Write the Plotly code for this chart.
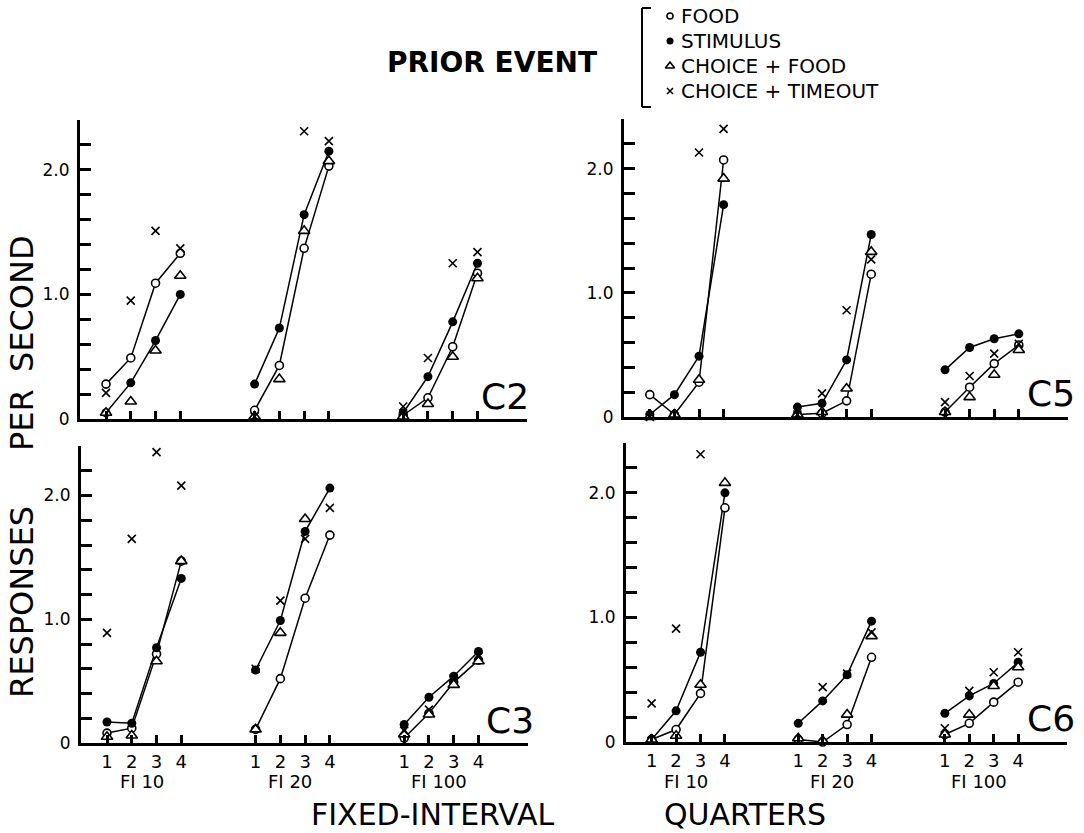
import plotly.graph_objects as go

W, H = 1084, 833

# ---------------- data ----------------
quarters = [1, 2, 3, 4]
schedules = ["FI 10", "FI 20", "FI 100"]
events = ["FOOD", "STIMULUS", "CHOICE + FOOD", "CHOICE + TIMEOUT"]
y_ticks = [round(i * 0.2, 1) for i in range(13)]
y_labels = {0.0: "0", 1.0: "1.0", 2.0: "2.0"}

# responses per second, 12 values = FI10 q1-4, FI20 q1-4, FI100 q1-4
c2_food = [0.28, 0.49, 1.09, 1.33, 0.07, 0.43, 1.37, 2.03, 0.03, 0.17, 0.58, 1.17]
c2_stim = [0.05, 0.29, 0.63, 1.00, 0.28, 0.73, 1.64, 2.15, 0.05, 0.34, 0.78, 1.25]
c2_cfood = [0.05, 0.14, 0.55, 1.15, 0.02, 0.32, 1.51, 2.07, 0.02, 0.12, 0.50, 1.13]
c2_ctime = [0.21, 0.95, 1.51, 1.37, 0.02, None, 2.31, 2.23, 0.10, 0.49, 1.25, 1.34]

c5_food = [0.18, 0.02, 0.28, 2.07, 0.02, 0.03, 0.13, 1.15, 0.04, 0.24, 0.43, 0.58]
c5_stim = [0.02, 0.18, 0.49, 1.71, 0.08, 0.11, 0.46, 1.47, 0.38, 0.56, 0.63, 0.67]
c5_cfood = [0.00, 0.02, 0.30, 1.92, 0.02, 0.04, 0.23, 1.33, 0.04, 0.16, 0.34, 0.54]
c5_ctime = [0.00, None, 2.13, 2.32, 0.02, 0.19, 0.86, 1.27, 0.12, 0.33, 0.51, 0.59]

c3_food = [0.08, 0.12, 0.72, 1.47, 0.11, 0.52, 1.17, 1.68, 0.04, 0.24, 0.49, 0.67]
c3_stim = [0.17, 0.16, 0.77, 1.33, 0.59, 0.99, 1.71, 2.06, 0.15, 0.37, 0.54, 0.74]
c3_cfood = [0.05, 0.06, 0.66, 1.47, 0.11, 0.89, 1.81, 2.42, 0.07, 0.23, 0.47, 0.66]
c3_ctime = [0.89, 1.65, 2.35, 2.08, 0.60, 1.15, 1.65, 1.90, 0.10, 0.27, 0.52, 0.70]

c6_food = [0.02, 0.10, 0.39, 1.88, 0.02, 0.00, 0.14, 0.68, 0.06, 0.15, 0.32, 0.48]
c6_stim = [0.02, 0.25, 0.72, 2.00, 0.15, 0.33, 0.54, 0.97, 0.23, 0.37, 0.47, 0.64]
c6_cfood = [0.02, 0.05, 0.46, 2.08, 0.03, 0.01, 0.22, 0.85, 0.06, 0.22, 0.45, 0.60]
c6_ctime = [0.31, 0.91, 2.31, 2.41, None, 0.44, 0.55, 0.88, 0.11, 0.41, 0.56, 0.72]

panels = [
    ("C2", c2_food, c2_stim, c2_cfood, c2_ctime),
    ("C5", c5_food, c5_stim, c5_cfood, c5_ctime),
    ("C3", c3_food, c3_stim, c3_cfood, c3_ctime),
    ("C6", c6_food, c6_stim, c6_cfood, c6_ctime),
]

# ---------------- layout helpers ----------------
GROUP_GAP = 6
xpos = [g * GROUP_GAP + q for g in range(len(schedules)) for q in quarters]

# panel boxes in pixels: (left, right, top, bottom)
boxes = [(80, 527, 120, 419), (624, 1068, 119, 417),
         (81, 528, 446, 743), (626, 1067, 443, 742)]
label_pos = [(505, 396), (1051, 393), (510, 720), (1051, 718)]

FONT = "DejaVu Sans"
THIN = "DejaVu Sans ExtraLight, DejaVu Sans"

marker_styles = {
    "FOOD": dict(symbol="circle", size=8, color="white", line=dict(color="black", width=1.6)),
    "STIMULUS": dict(symbol="circle", size=9, color="black", line=dict(color="black", width=0)),
    "CHOICE + FOOD": dict(symbol="triangle-up", size=10, color="white", line=dict(color="black", width=1.6)),
    "CHOICE + TIMEOUT": dict(symbol="x-thin-open", size=8, color="black", line=dict(color="black", width=1.6)),
}

fig = go.Figure()


def gapped(values):
    xs, ys = [], []
    for g in range(len(schedules)):
        for q in range(len(quarters)):
            i = g * len(quarters) + q
            xs.append(xpos[i])
            ys.append(values[i])
        xs.append(None)
        ys.append(None)
    return xs, ys


layout_axes = {}
annotations = []
for k, (name, food, stim, cfood, ctime) in enumerate(panels):
    ax = "" if k == 0 else str(k + 1)
    xr, yr = "x" + ax, "y" + ax
    # connecting lines (food and stimulus)
    for vals in (food, stim):
        lx, ly = gapped(vals)
        fig.add_trace(go.Scatter(x=lx, y=ly, mode="lines", xaxis=xr, yaxis=yr,
                                 line=dict(color="black", width=1.5),
                                 showlegend=False, hoverinfo="skip", cliponaxis=False))
    for ev, vals in zip(events, (food, stim, cfood, ctime)):
        fig.add_trace(go.Scatter(x=xpos, y=vals, mode="markers", xaxis=xr, yaxis=yr,
                                 marker=marker_styles[ev], name=ev,
                                 showlegend=False, cliponaxis=False))
    l, r, t, b = boxes[k]
    bottom_row = k >= 2
    layout_axes["xaxis" + ax] = dict(
        domain=[l / W, r / W], anchor=yr, range=[-0.05, 18], automargin=False,
        showline=True, linewidth=3, linecolor="black", mirror=False,
        showgrid=False, zeroline=False, ticks="inside", ticklen=8, tickwidth=2.5,
        tickcolor="black", tickvals=xpos,
        ticktext=[str(q) for _ in schedules for q in quarters],
        showticklabels=bottom_row, ticklabelstandoff=0,
        tickfont=dict(family=FONT, size=18, color="black"))
    layout_axes["yaxis" + ax] = dict(
        domain=[1 - b / H, 1 - t / H], anchor=xr, range=[0, 2.4], automargin=False,
        showline=True, linewidth=3, linecolor="black", mirror=False,
        showgrid=False, zeroline=False, ticks="inside", ticklen=11, tickwidth=2.5,
        tickcolor="black", tickvals=y_ticks,
        ticktext=[y_labels.get(v, "") for v in y_ticks], ticklabelstandoff=4,
        tickfont=dict(family=THIN, size=17, color="black"))
    lx, ly = label_pos[k]
    annotations.append(dict(x=lx, y=ly, xref="x5", yref="y5", text=name, showarrow=False,
                            font=dict(family=THIN, size=36, color="black")))
    if bottom_row:
        for g, s in enumerate(schedules):
            annotations.append(dict(x=g * GROUP_GAP + 2.4, y=781, xref=xr, yref="y5", text=s,
                                    showarrow=False,
                                    font=dict(family=FONT, size=18, color="black")))

# overlay pixel axis for titles and the legend key
layout_axes["xaxis5"] = dict(domain=[0, 1], range=[0, W], visible=False, anchor="y5",
                             fixedrange=True, automargin=False)
layout_axes["yaxis5"] = dict(domain=[0, 1], range=[H, 0], visible=False, anchor="x5",
                             fixedrange=True, automargin=False)

legend_x, legend_y0, legend_dy = 670, 16, 25
for i, ev in enumerate(events):
    st = dict(marker_styles[ev])
    st["size"] = st["size"] - 2
    fig.add_trace(go.Scatter(x=[legend_x], y=[legend_y0 + i * legend_dy], mode="markers",
                             xaxis="x5", yaxis="y5", marker=st, showlegend=False,
                             hoverinfo="skip", cliponaxis=False))
    annotations.append(dict(x=legend_x + 9, y=legend_y0 + i * legend_dy, xref="x5", yref="y5",
                            text=ev, showarrow=False, xanchor="left",
                            font=dict(family=FONT, size=20, color="black")))

annotations += [
    dict(x=492, y=62, xref="x5", yref="y5", text="<b>PRIOR EVENT</b>", showarrow=False,
         font=dict(family=FONT, size=28, color="black")),
    dict(x=22, y=304, xref="x5", yref="y5", text="SECOND", textangle=-90, showarrow=False,
         font=dict(family=FONT, size=32, color="black")),
    dict(x=22, y=420, xref="x5", yref="y5", text="PER", textangle=-90, showarrow=False,
         font=dict(family=FONT, size=32, color="black")),
    dict(x=22, y=602, xref="x5", yref="y5", text="RESPONSES", textangle=-90, showarrow=False,
         font=dict(family=FONT, size=32, color="black")),
    dict(x=432, y=814, xref="x5", yref="y5", text="FIXED-INTERVAL", showarrow=False,
         font=dict(family=FONT, size=30, color="black")),
    dict(x=745, y=814, xref="x5", yref="y5", text="QUARTERS", showarrow=False,
         font=dict(family=FONT, size=30, color="black")),
]

bx = 642
shapes = [
    dict(type="line", xref="x5", yref="y5", x0=bx, x1=bx, y0=8, y1=107, line=dict(color="black", width=2)),
    dict(type="line", xref="x5", yref="y5", x0=bx, x1=bx + 9, y0=8, y1=8, line=dict(color="black", width=2)),
    dict(type="line", xref="x5", yref="y5", x0=bx, x1=bx + 9, y0=107, y1=107, line=dict(color="black", width=2)),
]

fig.update_layout(
    width=W, height=H, margin=dict(l=0, r=0, t=0, b=0, pad=0, autoexpand=False),
    paper_bgcolor="white", plot_bgcolor="rgba(0,0,0,0)",
    font=dict(family=FONT, color="black"),
    showlegend=False, annotations=annotations, shapes=shapes,
    **layout_axes,
)

fig.write_html("out.html", config={"displayModeBar": False},
               post_script="document.body.style.margin='0px';document.body.style.overflow='hidden';")
